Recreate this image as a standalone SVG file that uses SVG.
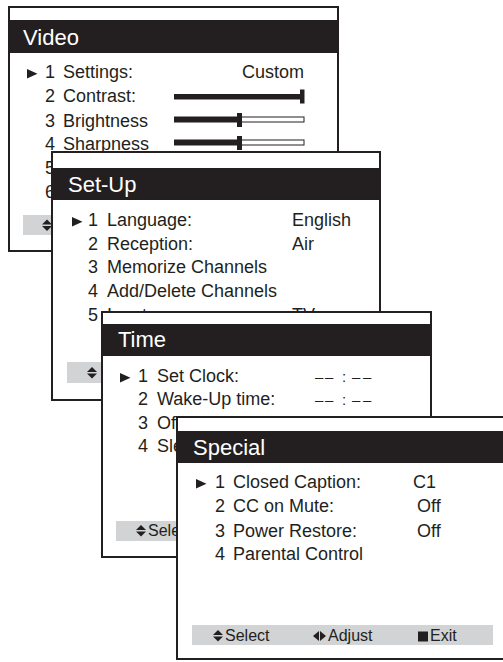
<svg xmlns="http://www.w3.org/2000/svg" width="503" height="662" viewBox="0 0 503 662">
<style>
.panel{fill:#fff;stroke:#231f20;stroke-width:2}
.tbar{fill:#231f20}
.title{font-family:"Liberation Sans",Arial,sans-serif;font-size:22px;fill:#fff}
.row{font-family:"Liberation Sans",Arial,sans-serif;font-size:18px;fill:#231f20}
.dash{font-family:"Liberation Sans",Arial,sans-serif;font-size:15px;fill:#231f20}
.hint{fill:#d1d3d4}
.htxt{font-family:"Liberation Sans",Arial,sans-serif;font-size:16px;fill:#231f20}
.ink{fill:#231f20}
.hollow{fill:#fff;stroke:#231f20;stroke-width:1}
</style>
<defs>
<clipPath id="timeLeft"><rect x="100" y="300" width="77" height="260"/></clipPath>
</defs>
<rect width="503" height="662" fill="#fff"/>
<g id="connectors"/>

<g id="video">
<rect class="panel" x="9" y="7" width="329" height="244"/>
<rect class="tbar" x="9" y="20" width="329" height="33"/>
<text class="title" x="23" y="45">Video</text>
<polygon class="ink" points="27,69 27,78.5 37.5,73.8"/>
<text class="row" x="45" y="78">1<tspan x="63">Settings:</tspan></text>
<text class="row" x="304" y="78" text-anchor="end">Custom</text>
<text class="row" x="45" y="102">2<tspan x="63">Contrast:</tspan></text>
<rect class="ink" x="174" y="94" width="130" height="5.5"/>
<rect class="ink" x="300" y="89.5" width="4.5" height="14"/>
<text class="row" x="45" y="127">3<tspan x="63">Brightness</tspan></text>
<rect class="hollow" x="239.5" y="117" width="64.5" height="5"/>
<rect class="ink" x="174" y="116.5" width="65" height="6"/>
<rect class="ink" x="237" y="113" width="5" height="14"/>
<text class="row" x="45" y="150">4<tspan x="63">Sharpness</tspan></text>
<rect class="hollow" x="239.5" y="140" width="64.5" height="5"/>
<rect class="ink" x="174" y="139.5" width="65" height="6"/>
<rect class="ink" x="237" y="136" width="5" height="14"/>
<text class="row" x="45" y="174">5</text>
<text class="row" x="45" y="198">6</text>
<rect class="hint" x="23" y="215" width="301" height="20"/>
<polygon class="ink" points="42,224.5 52,224.5 47,219.5"/>
<polygon class="ink" points="42,226 52,226 47,231"/>
</g>

<g id="setup">
<rect class="panel" x="52" y="152" width="328" height="248"/>
<rect class="tbar" x="52" y="168" width="328" height="32"/>
<text class="title" x="68" y="192">Set-Up</text>
<polygon class="ink" points="72,217 72,226.5 82.5,221.8"/>
<text class="row" x="88" y="226">1<tspan x="107">Language:</tspan></text>
<text class="row" x="292" y="226">English</text>
<text class="row" x="88" y="250">2<tspan x="107">Reception:</tspan></text>
<text class="row" x="292" y="250">Air</text>
<text class="row" x="88" y="273">3<tspan x="107">Memorize Channels</tspan></text>
<text class="row" x="88" y="297">4<tspan x="107">Add/Delete Channels</tspan></text>
<text class="row" x="88" y="321">5<tspan x="107">Input</tspan></text>
<text class="row" x="292" y="321">TV</text>
<rect class="hint" x="67" y="362" width="299" height="21"/>
<polygon class="ink" points="87,372 97,372 92,367"/>
<polygon class="ink" points="87,373.5 97,373.5 92,378.5"/>
</g>

<g id="time">
<rect class="panel" x="102" y="312" width="329" height="245"/>
<rect class="tbar" x="102" y="324" width="329" height="32"/>
<text class="title" x="118" y="347">Time</text>
<polygon class="ink" points="120,373 120,382.5 130.5,377.8"/>
<text class="row" x="138" y="382">1<tspan x="157">Set Clock:</tspan></text>
<text class="dash" x="315 325 342 352 363" y="382">––:––</text>
<text class="row" x="138" y="405">2<tspan x="157">Wake-Up time:</tspan></text>
<text class="dash" x="315 325 342 352 363" y="405">––:––</text>
<text class="row" x="138" y="429">3<tspan x="157">Off Timer</tspan></text>
<text class="row" x="138" y="452" clip-path="url(#timeLeft)">4<tspan x="157">Sle</tspan></text>
<rect class="hint" x="116" y="521" width="301" height="20"/>
<polygon class="ink" points="136,530 146,530 141,525"/>
<polygon class="ink" points="136,531.5 146,531.5 141,536.5"/>
<text class="htxt" x="148" y="536">Select</text>
</g>

<g id="special">
<rect class="panel" x="177" y="417" width="340" height="242"/>
<rect class="tbar" x="177" y="431" width="340" height="32"/>
<text class="title" x="193" y="455">Special</text>
<polygon class="ink" points="196,479 196,488.5 206.5,483.8"/>
<text class="row" x="215" y="488">1<tspan x="233">Closed Caption:</tspan></text>
<text class="row" x="413" y="488">C1</text>
<text class="row" x="215" y="512">2<tspan x="233">CC on Mute:</tspan></text>
<text class="row" x="417" y="512">Off</text>
<text class="row" x="215" y="537">3<tspan x="233">Power Restore:</tspan></text>
<text class="row" x="417" y="537">Off</text>
<text class="row" x="215" y="560">4<tspan x="233">Parental Control</tspan></text>
<rect class="hint" x="192" y="625" width="301" height="20"/>
<polygon class="ink" points="213,635 223,635 218,630"/>
<polygon class="ink" points="213,636.5 223,636.5 218,641.5"/>
<text class="htxt" x="225" y="641">Select</text>
<polygon class="ink" points="319,631 319,641 313,636"/>
<polygon class="ink" points="320,631 320,641 326,636"/>
<text class="htxt" x="328" y="641">Adjust</text>
<rect class="ink" x="418" y="631.5" width="10" height="10"/>
<text class="htxt" x="430" y="641">Exit</text>
</g>
</svg>
